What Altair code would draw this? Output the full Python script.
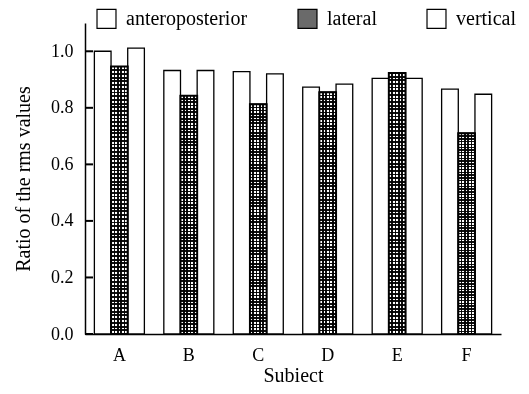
import altair as alt
import pandas as pd

subjects = ["A", "B", "C", "D", "E", "F"]
directions = ["anteroposterior", "lateral", "vertical"]
anteroposterior = [1.000, 0.932, 0.928, 0.873, 0.904, 0.866]
lateral = [0.946, 0.843, 0.813, 0.855, 0.923, 0.710]
vertical = [1.011, 0.932, 0.920, 0.884, 0.904, 0.848]
y_ticks = [0.0, 0.2, 0.4, 0.6, 0.8, 1.0]

rows = []
for i, s in enumerate(subjects):
    rows.append({"subject": s, "dir": "anteroposterior", "value": anteroposterior[i]})
    rows.append({"subject": s, "dir": "lateral", "value": lateral[i]})
    rows.append({"subject": s, "dir": "vertical", "value": vertical[i]})
df = pd.DataFrame(rows)
ticks_df = pd.DataFrame({"value": y_ticks})

FONT = "Liberation Serif"
W, H = 416, 311


def stripes(n, half, horizontal):
    stops = [{"offset": 0.0, "color": "white"}]
    for k in range(1, n):
        c = k / n
        stops += [
            {"offset": c - half, "color": "white"},
            {"offset": c - half, "color": "#111"},
            {"offset": c + half, "color": "#111"},
            {"offset": c + half, "color": "white"},
        ]
    stops.append({"offset": 1.0, "color": "white"})
    g = {"gradient": "linear", "stops": stops}
    if horizontal:
        g.update({"x1": 0, "x2": 0, "y1": 0, "y2": 1})
    else:
        g.update({"x1": 0, "x2": 1, "y1": 0, "y2": 0})
    return g


xenc = alt.X(
    "subject:N",
    sort=subjects,
    scale=alt.Scale(paddingInner=0.28, paddingOuter=0.135),
    axis=alt.Axis(
        title="Subiect",
        labelAngle=0,
        ticks=False,
        domainColor="black",
        domainWidth=1.5,
        labelPadding=12,
        titlePadding=1,
    ),
)
xoff = alt.XOffset("dir:N", sort=directions, scale=alt.Scale(domain=directions, paddingInner=0))
yscale = alt.Scale(domain=[0, 1.1], nice=False)
yaxis = alt.Axis(
    title="Ratio of the rms values",
    values=y_ticks,
    format=".1f",
    ticks=False,
    grid=False,
    domainColor="black",
    domainWidth=1.5,
    labelPadding=12,
    titlePadding=17,
)
yenc = alt.Y("value:Q", scale=yscale, axis=yaxis, title="Ratio of the rms values")

base = alt.Chart(df)

bars = base.mark_bar(stroke="black", strokeWidth=1.3).encode(
    x=xenc,
    xOffset=xoff,
    y=yenc,
    fill=alt.Fill(
        "dir:N",
        sort=directions,
        scale=alt.Scale(domain=directions, range=["white", "#6a6a6a", "white"]),
        legend=alt.Legend(
            title=None,
            orient="none",
            direction="horizontal",
            legendX=11,
            legendY=-15,
            symbolType="square",
            symbolSize=360,
            symbolStrokeColor="black",
            symbolStrokeWidth=1.2,
            labelFont=FONT,
            labelFontSize=20,
            labelOffset=9,
            columnPadding=47,
        ),
    ),
)

lat_v = base.transform_filter(alt.datum.dir == "lateral").mark_bar(
    fill=stripes(5, 0.05, False), stroke=None
).encode(x=xenc, xOffset=xoff, y=yenc)

lat_h = base.transform_filter(alt.datum.dir == "lateral").mark_bar(
    fill=stripes(72, 0.0035, True), stroke="black", strokeWidth=2, blend="multiply"
).encode(x=xenc, xOffset=xoff, y=yenc)

inner_ticks = alt.Chart(ticks_df).mark_rule(color="black", strokeWidth=2).encode(
    x=alt.value(0),
    x2=alt.value(8),
    y=yenc,
)

chart = (
    alt.layer(bars, lat_v, lat_h, inner_ticks)
    .properties(
        width=W,
        height=H,
        padding={"left": 5, "top": 0, "right": 0, "bottom": 0},
    )
    .configure_view(stroke=None)
    .configure_axis(
        labelFont=FONT,
        titleFont=FONT,
        labelFontSize=18,
        titleFontSize=20,
        titleFontWeight="normal",
        labelColor="black",
        titleColor="black",
    )
)

chart.save("out.html", embed_options={"renderer": "svg", "actions": False})
